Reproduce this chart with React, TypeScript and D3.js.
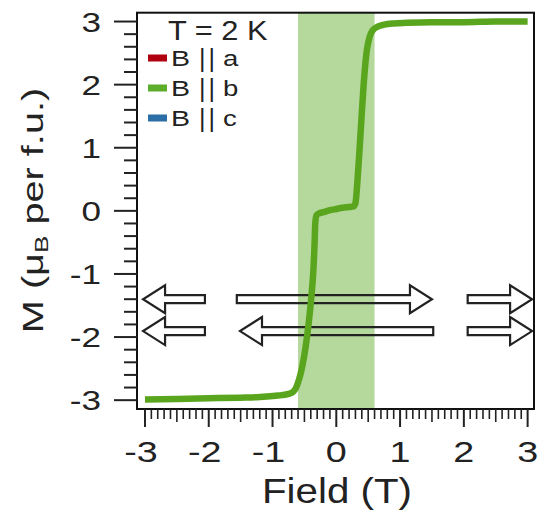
import React from "react";
import * as d3 from "d3";

// ---- data ----
const fieldT = [-3.0, -2.5, -2.0, -1.5, -1.2, -0.95, -0.85, -0.75, -0.68, -0.63, -0.58, -0.53, -0.48, -0.43, -0.39, -0.36, -0.34, -0.33, -0.31, -0.27, -0.2, -0.1, 0.0, 0.1, 0.2, 0.27, 0.3, 0.33, 0.36, 0.4, 0.44, 0.48, 0.52, 0.57, 0.65, 0.75, 0.9, 1.1, 1.5, 2.0, 2.5, 3.0];
const momentB = [-2.99, -2.98, -2.97, -2.96, -2.95, -2.93, -2.92, -2.9, -2.87, -2.8, -2.66, -2.45, -2.15, -1.75, -1.35, -0.95, -0.5, -0.2, -0.07, -0.04, -0.02, 0.01, 0.03, 0.05, 0.06, 0.07, 0.12, 0.45, 0.9, 1.55, 2.15, 2.55, 2.75, 2.86, 2.92, 2.95, 2.97, 2.98, 2.99, 2.99, 3.0, 3.0];
const shadeRange = [-0.6, 0.6];
const xTicks = [-3, -2, -1, 0, 1, 2, 3];
const yTicks = [-3, -2, -1, 0, 1, 2, 3];
const legendLabels = ["a", "b", "c"];
const legendColors = ["#b0000f", "#5cae2a", "#2b6fa6"];
const legendTitle = "T = 2 K";
const arrowRowsM = [-1.4, -1.905];
const arrowFrom = [[-2.06, -1.56, 2.06], [-2.06, 1.52, 2.06]];
const arrowTo = [[-3.03, 1.5, 3.07], [-3.03, -1.51, 3.07]];

const W = 549, H = 519;
const L = 137, R = 534, T = 12.7, B = 409;

export default function App() {
  const x = d3.scaleLinear().domain([-3.125, 3.1]).range([L, R]);
  const y = d3.scaleLinear().domain([-3.14, 3.14]).range([B, T]);
  const pts = fieldT.map((f, i) => [f, momentB[i]] as [number, number]);
  const line = d3.line<[number, number]>().x(d => x(d[0])).y(d => y(d[1])).curve(d3.curveMonotoneX);

  const xMinor = d3.range(-30, 31).map(v => v / 10).filter(v => Math.abs(v - Math.round(v)) > 1e-6);
  const yMinor = d3.range(-15, 16).map(v => v / 5).filter(v => Math.abs(v - Math.round(v)) > 1e-6);

  const arrowPath = (x0: number, x1: number, yy: number) => {
    const h = 4, Hh = 14, Lh = 22;
    const dir = x1 > x0 ? 1 : -1;
    const xb = x1 - dir * Lh;
    return `M${x0},${yy - h}L${xb},${yy - h}L${xb},${yy - Hh}L${x1},${yy}L${xb},${yy + Hh}L${xb},${yy + h}L${x0},${yy + h}Z`;
  };

  const font = "'Liberation Sans', Arial, sans-serif";

  return (
    <svg width={W} height={H} style={{ position: "absolute", left: 0, top: 0, background: "#fff" }} fontFamily={font}>
      <rect x={0} y={0} width={W} height={H} fill="#fff" />
      {/* shaded region */}
      <rect x={x(shadeRange[0])} y={T} width={x(shadeRange[1]) - x(shadeRange[0])} height={B - T} fill="#b5d89c" />
      {/* arrows */}
      {arrowRowsM.map((m, r) =>
        arrowFrom[r].map((f, i) => (
          <path key={`a${r}-${i}`} d={arrowPath(x(f), x(arrowTo[r][i]), y(m))} fill="none" stroke="#222" strokeWidth={2.2} strokeLinejoin="miter" />
        ))
      )}
      {/* curve */}
      <path d={line(pts) || ""} fill="none" stroke="#5aa51e" strokeWidth={6.5} strokeLinejoin="round" strokeLinecap="butt" />
      {/* frame */}
      <rect x={L} y={T} width={R - L} height={B - T} fill="none" stroke="#111" strokeWidth={2} />
      {/* y ticks */}
      {yTicks.map(v => (
        <g key={`yt${v}`}>
          <line x1={114} x2={L} y1={y(v)} y2={y(v)} stroke="#222" strokeWidth={2} />
          <text transform={`translate(101,${y(v) + 10}) scale(1.3,1)`} textAnchor="end" fontSize={27} fill="#222">{v}</text>
        </g>
      ))}
      {yMinor.map(v => (
        <line key={`ym${v}`} x1={124} x2={L} y1={y(v)} y2={y(v)} stroke="#222" strokeWidth={2} />
      ))}
      {/* x ticks */}
      {xTicks.map(v => (
        <g key={`xt${v}`}>
          <line x1={x(v)} x2={x(v)} y1={B} y2={427} stroke="#222" strokeWidth={2} />
          <text transform={`translate(${x(v) - (v < 0 ? 4 : 0)},462) scale(1.3,1)`} textAnchor="middle" fontSize={29} fill="#222">{v}</text>
        </g>
      ))}
      {xMinor.map(v => (
        <line key={`xm${v}`} x1={x(v)} x2={x(v)} y1={B} y2={Math.abs(Math.abs(v % 1) - 0.5) < 1e-6 ? 422 : 419} stroke="#222" strokeWidth={1.6} />
      ))}
      {/* axis titles */}
      <text transform={`translate(337,503) scale(1.12,1)`} textAnchor="middle" fontSize={36} fill="#222">Field (T)</text>
      <text transform={`translate(43,210.5) rotate(-90) scale(1.37,1)`} textAnchor="middle" fontSize={29} fill="#222">
        M (μ<tspan fontSize={19} dy={5}>B</tspan><tspan dy={-5}> per f.u.)</tspan>
      </text>
      {/* legend */}
      <text transform={`translate(168,40) scale(1.1,1)`} fontSize={28} fill="#222">{legendTitle}</text>
      {legendLabels.map((lab, i) => {
        const cy = 58 + i * 30;
        return (
          <g key={`lg${lab}`}>
            <rect x={148} y={cy - 3.5} width={19} height={7} fill={legendColors[i]} />
            <text transform={`translate(171,${cy + 8}) scale(1.3,1)`} fontSize={22} fill="#222">B</text>
            <text x={199} y={cy + 9} fontSize={25} fill="#222" letterSpacing={3}>||</text>
            <text transform={`translate(223,${cy + 8}) scale(1.25,1)`} fontSize={22} fill="#222">{lab}</text>
          </g>
        );
      })}
    </svg>
  );
}
